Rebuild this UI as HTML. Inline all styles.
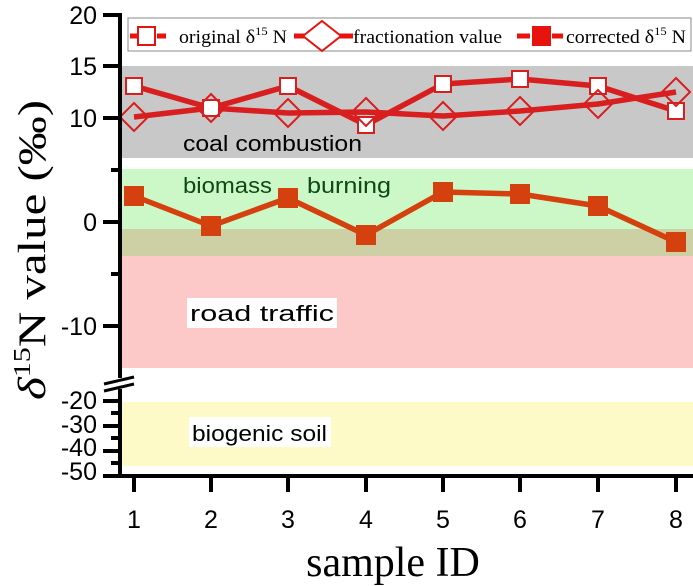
<!DOCTYPE html>
<html><head><meta charset="utf-8"><style>
body{margin:0;background:#fff}
svg{display:block}
.t{font-family:"Liberation Sans Narrow","Liberation Sans",sans-serif;font-size:25px}
.lab{font-family:"Liberation Sans Narrow","Liberation Sans",sans-serif;font-size:22px}
.leg{font-family:"Liberation Serif",serif;font-size:19px}
</style></head><body>
<svg width="693" height="586" viewBox="0 0 693 586">
<rect x="122" y="66" width="571" height="92" fill="#c8c8c8"/>
<rect x="122" y="169" width="571" height="60" fill="#ccf8c8"/>
<rect x="122" y="229" width="571" height="27" fill="#cdd0a4"/>
<rect x="122" y="256" width="571" height="112" fill="#fdc8c8"/>
<rect x="122" y="402" width="571" height="64" fill="#fdfac8"/>
<text x="183" y="151" class="lab" textLength="179" lengthAdjust="spacingAndGlyphs">coal combustion</text>
<text x="183" y="193" class="lab" fill="#0d4a0d" textLength="89" lengthAdjust="spacingAndGlyphs">biomass</text>
<text x="307" y="193" class="lab" fill="#0d4a0d" textLength="84" lengthAdjust="spacingAndGlyphs">burning</text>
<rect x="187" y="298" width="150" height="30" fill="#fff"/>
<text x="190" y="321" class="lab" textLength="144" lengthAdjust="spacingAndGlyphs">road traffic</text>
<rect x="189" y="417" width="142" height="30" fill="#fff"/>
<text x="192" y="441" class="lab" textLength="135" lengthAdjust="spacingAndGlyphs">biogenic soil</text>
<rect x="128" y="18" width="563" height="33" fill="#fff" stroke="#888" stroke-width="1"/>
<g stroke="#e8120e" stroke-width="5">
<line x1="130" y1="36" x2="137" y2="36"/><line x1="157" y1="36" x2="166" y2="36"/>
<line x1="294" y1="36" x2="353" y2="36"/>
<line x1="517" y1="36" x2="530" y2="36"/><line x1="552" y1="36" x2="563" y2="36"/>
</g>
<rect x="138" y="27" width="17" height="18" fill="#fff" stroke="#e8120e" stroke-width="2"/>
<path d="M322 21 L341 36 L322 51 L303 36Z" fill="#fff" stroke="#e8120e" stroke-width="2"/>
<rect x="532" y="26" width="19" height="20" fill="#e8120e"/>
<text x="179" y="43" class="leg" textLength="108" lengthAdjust="spacingAndGlyphs">original δ<tspan font-size="12" dy="-8">15</tspan><tspan dy="8"> N</tspan></text>
<text x="353" y="43" class="leg" textLength="149" lengthAdjust="spacingAndGlyphs">fractionation value</text>
<text x="566" y="43" class="leg" textLength="120" lengthAdjust="spacingAndGlyphs">corrected δ<tspan font-size="12" dy="-8">15</tspan><tspan dy="8"> N</tspan></text>
<g fill="none" stroke-width="5.5" stroke-linejoin="round">
<polyline stroke="#d81e1e" points="134,86 211,108 288,86 366,125 443,84 520,79 598,86 676,111"/>
<polyline stroke="#d81e1e" points="134,117 211,108 288,113 366,112 443,116 520,111 598,104 676,92"/>
<polyline stroke="#d4400e" points="134,196 211,226 288,198 366,235 443,192 520,194 598,206 676,242"/>
</g>
<g fill="#fff" stroke="#d81e1e" stroke-width="2">
<rect x="126" y="78" width="16" height="16"/><rect x="203" y="100" width="16" height="16"/><rect x="280" y="78" width="16" height="16"/><rect x="358" y="117" width="16" height="16"/><rect x="435" y="76" width="16" height="16"/><rect x="512" y="71" width="16" height="16"/><rect x="590" y="78" width="16" height="16"/><rect x="668" y="103" width="16" height="16"/>
</g>
<g fill="none" stroke="#d81e1e" stroke-width="2">
<path d="M134 103 l14 14 l-14 14 l-14 -14Z"/><path d="M211 94 l14 14 l-14 14 l-14 -14Z"/><path d="M288 99 l14 14 l-14 14 l-14 -14Z"/><path d="M366 98 l14 14 l-14 14 l-14 -14Z"/><path d="M443 102 l14 14 l-14 14 l-14 -14Z"/><path d="M520 97 l14 14 l-14 14 l-14 -14Z"/><path d="M598 90 l14 14 l-14 14 l-14 -14Z"/><path d="M676 78 l14 14 l-14 14 l-14 -14Z"/>
</g>
<g fill="#d4400e">
<rect x="124" y="186" width="20" height="20"/><rect x="201" y="216" width="20" height="20"/><rect x="278" y="188" width="20" height="20"/><rect x="356" y="225" width="20" height="20"/><rect x="433" y="182" width="20" height="20"/><rect x="510" y="184" width="20" height="20"/><rect x="588" y="196" width="20" height="20"/><rect x="666" y="232" width="20" height="20"/>
</g>
<g stroke="#000" stroke-width="4">
<line x1="120" y1="13" x2="120" y2="378"/>
<line x1="120" y1="389" x2="120" y2="478"/>
<line x1="118" y1="476" x2="693" y2="476"/>
<line x1="103" y1="15" x2="120" y2="15"/><line x1="103" y1="66" x2="120" y2="66"/><line x1="103" y1="118" x2="120" y2="118"/>
<line x1="111" y1="170" x2="120" y2="170"/><line x1="103" y1="222" x2="120" y2="222"/><line x1="111" y1="274" x2="120" y2="274"/><line x1="103" y1="326" x2="120" y2="326"/>
<line x1="103" y1="401" x2="120" y2="401"/><line x1="111" y1="413" x2="120" y2="413"/><line x1="103" y1="426" x2="120" y2="426"/><line x1="111" y1="438" x2="120" y2="438"/><line x1="103" y1="451" x2="120" y2="451"/><line x1="111" y1="463" x2="120" y2="463"/><line x1="103" y1="476" x2="120" y2="476"/>
<line x1="134" y1="476" x2="134" y2="492"/><line x1="211" y1="476" x2="211" y2="492"/><line x1="288" y1="476" x2="288" y2="492"/><line x1="366" y1="476" x2="366" y2="492"/><line x1="443" y1="476" x2="443" y2="492"/><line x1="520" y1="476" x2="520" y2="492"/><line x1="598" y1="476" x2="598" y2="492"/><line x1="676" y1="476" x2="676" y2="492"/>
</g>
<g stroke="#000" stroke-width="3">
<line x1="104" y1="384" x2="134" y2="377"/><line x1="104" y1="391" x2="134" y2="384"/>
</g>
<g class="t" text-anchor="end">
<text x="97" y="24">20</text><text x="97" y="75">15</text><text x="97" y="127">10</text><text x="97" y="231">0</text><text x="97" y="335">-10</text>
<text x="97" y="409">-20</text><text x="97" y="433">-30</text><text x="97" y="456">-40</text><text x="97" y="480">-50</text>
</g>
<g class="t" text-anchor="middle" font-size="26">
<text x="134" y="528">1</text><text x="211" y="528">2</text><text x="288" y="528">3</text><text x="366" y="528">4</text><text x="443" y="528">5</text><text x="520" y="528">6</text><text x="598" y="528">7</text><text x="676" y="528">8</text>
</g>
<text x="393" y="576" text-anchor="middle" font-family="Liberation Serif,serif" font-size="42">sample ID</text>
<text transform="translate(45,250) rotate(-90)" text-anchor="middle" font-family="Liberation Serif,serif" font-size="39" textLength="300" lengthAdjust="spacingAndGlyphs"><tspan font-style="italic">δ</tspan><tspan font-size="24" dy="-15">15</tspan><tspan dy="15">N value (‰)</tspan></text>
</svg>
</body></html>
